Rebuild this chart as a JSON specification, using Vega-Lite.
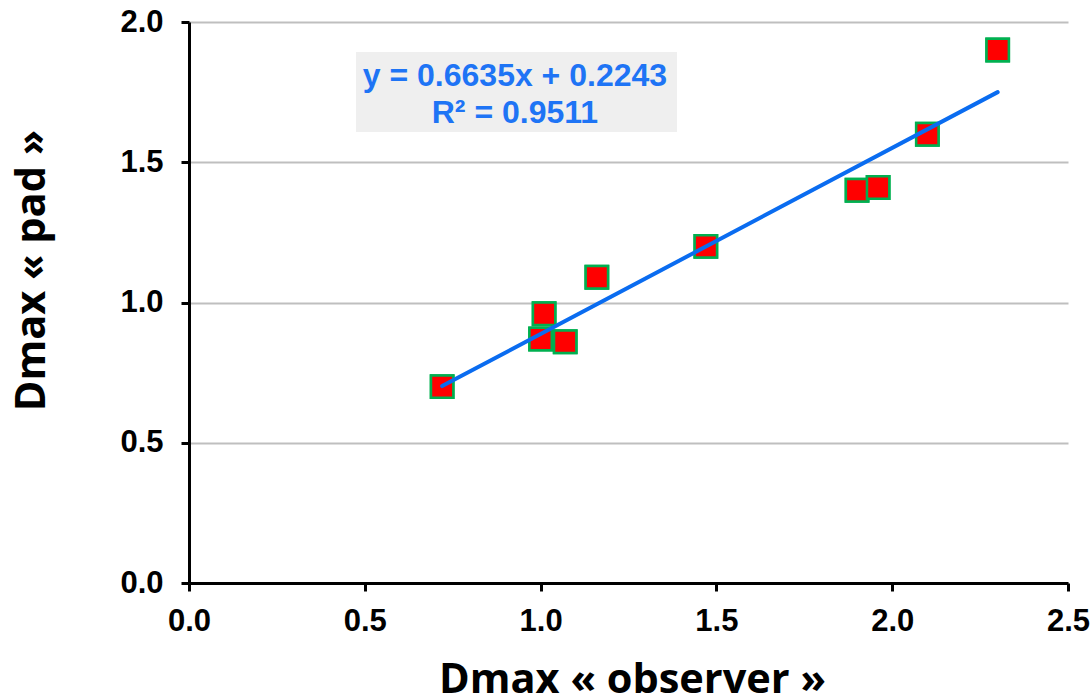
{
  "$schema": "https://vega.github.io/schema/vega-lite/v6.json",
  "width": 879,
  "height": 561,
  "autosize": {"type": "none"},
  "padding": {"left": 189, "top": 22, "right": 24, "bottom": 115},
  "background": "white",
  "config": {
    "view": {"stroke": null},
    "axis": {
      "domainColor": "black",
      "domainWidth": 3,
      "tickColor": "black",
      "tickWidth": 3,
      "tickSize": 8,
      "labelFlush": false,
      "labelFont": "Liberation Sans",
      "labelFontWeight": "bold",
      "labelFontSize": 31,
      "labelColor": "black",
      "titleFont": "Open Sans",
      "titleFontWeight": "bold",
      "titleFontSize": 41.5,
      "titleColor": "black"
    }
  },
  "datasets": {
    "pts": [
      {"obs": 0.72, "pad": 0.70},
      {"obs": 1.00, "pad": 0.87},
      {"obs": 1.01, "pad": 0.96},
      {"obs": 1.07, "pad": 0.86},
      {"obs": 1.16, "pad": 1.09},
      {"obs": 1.47, "pad": 1.20},
      {"obs": 1.90, "pad": 1.40},
      {"obs": 1.96, "pad": 1.41},
      {"obs": 2.10, "pad": 1.60},
      {"obs": 2.30, "pad": 1.90}
    ],
    "fit": [
      {"obs": 0.72, "pad": 0.702},
      {"obs": 2.30, "pad": 1.750}
    ],
    "box": [
      {"x1": 0.475, "x2": 1.388, "y1": 1.608, "y2": 1.893}
    ],
    "labels": [
      {"x": 0.927, "y": 1.808, "label": "y = 0.6635x + 0.2243"},
      {"x": 0.927, "y": 1.676, "label": "R² = 0.9511"}
    ]
  },
  "layer": [
    {
      "data": {"name": "pts"},
      "mark": {"type": "square", "size": 500, "fill": "#FF0000", "stroke": "#00B050", "strokeWidth": 2.5, "opacity": 1},
      "encoding": {
        "x": {
          "field": "obs", "type": "quantitative",
          "scale": {"domain": [0, 2.5], "nice": false, "zero": false},
          "axis": {
            "values": [0, 0.5, 1, 1.5, 2, 2.5], "format": ".1f", "grid": false,
            "labelPadding": 15,
            "title": "Dmax «  observer »",
            "titleX": 443, "titleY": 109, "titleBaseline": "alphabetic", "titleAlign": "center"
          }
        },
        "y": {
          "field": "pad", "type": "quantitative",
          "scale": {"domain": [0, 2], "nice": false, "zero": false},
          "axis": {
            "values": [0, 0.5, 1, 1.5, 2], "format": ".1f", "grid": true,
            "gridColor": "#BFBFBF", "gridWidth": 2,
            "labelPadding": 18,
            "title": "Dmax « pad »",
            "titleAngle": -90, "titleX": -145, "titleY": 248, "titleBaseline": "alphabetic", "titleAlign": "center"
          }
        }
      }
    },
    {
      "data": {"name": "box"},
      "mark": {"type": "rect", "fill": "#EFEFEF"},
      "encoding": {
        "x": {"field": "x1", "type": "quantitative"},
        "x2": {"field": "x2"},
        "y": {"field": "y1", "type": "quantitative"},
        "y2": {"field": "y2"}
      }
    },
    {
      "data": {"name": "labels"},
      "mark": {"type": "text", "font": "Liberation Sans", "fontWeight": "bold", "fontSize": 32, "color": "#1E74F5", "align": "center", "baseline": "middle"},
      "encoding": {
        "x": {"field": "x", "type": "quantitative"},
        "y": {"field": "y", "type": "quantitative"},
        "text": {"field": "label"}
      }
    },
    {
      "data": {"name": "pts"},
      "mark": {"type": "square", "size": 500, "fill": "#FF0000", "stroke": "#00B050", "strokeWidth": 2.5, "opacity": 1},
      "encoding": {
        "x": {"field": "obs", "type": "quantitative"},
        "y": {"field": "pad", "type": "quantitative"}
      }
    },
    {
      "data": {"name": "fit"},
      "mark": {"type": "line", "color": "#0A6CF0", "strokeWidth": 4, "strokeCap": "round"},
      "encoding": {
        "x": {"field": "obs", "type": "quantitative"},
        "y": {"field": "pad", "type": "quantitative"}
      }
    }
  ]
}
